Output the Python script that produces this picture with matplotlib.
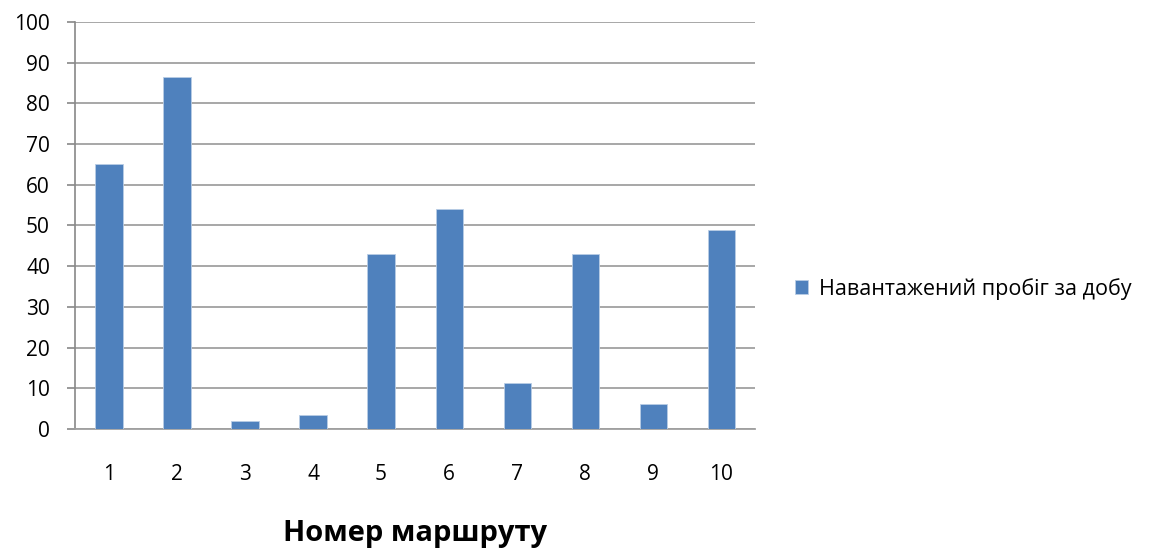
import matplotlib
matplotlib.use('agg')

import matplotlib.pyplot as plt
import numpy as np

routes = ['1', '2', '3', '4', '5', '6', '7', '8', '9', '10']
mileage = [65, 86.4, 2, 3.4, 43, 54, 11.2, 43, 6.1, 49]
series_name = 'Навантажений пробіг за добу'
y_ticks = list(range(0, 101, 10))

plt.rcParams['font.family'] = ['Open Sans', 'DejaVu Sans']

fig = plt.figure(figsize=(11.71, 5.49), dpi=100)
ax = fig.add_axes([0.064, 0.2186, 0.581, 0.7414])

x = np.arange(len(routes))
ax.bar(x, mileage, width=0.4, color='#4F81BD', edgecolor='#b9cde5',
       linewidth=0.6, label=series_name, zorder=3)

ax.set_xlim(-0.5, len(routes) - 0.5)
ax.set_ylim(0, 100)
ax.set_yticks(y_ticks)
ax.set_xticks(x)
ax.set_xticklabels(routes)
ax.tick_params(axis='y', labelsize=15, length=6, width=1.2, color='#888888', pad=12)
ax.tick_params(axis='x', labelsize=15, length=0, pad=25)
ax.grid(axis='y', color='#a0a0a0', linewidth=1.3, zorder=0)

for side in ['top', 'right']:
    ax.spines[side].set_visible(False)
ax.spines['left'].set_color('#888888')
ax.spines['left'].set_linewidth(1.2)
ax.spines['bottom'].set_color('#a0a0a0')
ax.spines['bottom'].set_linewidth(1.3)

ax.set_xlabel('Номер маршруту', fontsize=21, fontweight='bold', labelpad=25)

ax.legend(loc='center left', bbox_to_anchor=(1.03, 0.345), frameon=False,
          fontsize=15.5, handlelength=0.6, handleheight=0.6, handletextpad=0.5)

plt.savefig('out.png', dpi=100)
